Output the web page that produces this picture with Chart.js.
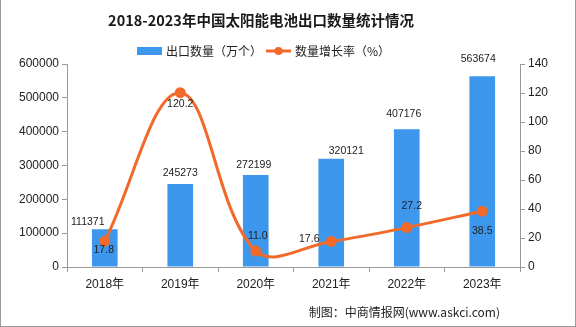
<!DOCTYPE html>
<html><head><meta charset="utf-8">
<script src="https://cdn.jsdelivr.net/npm/chart.js@4"></script>
<style>
html,body{margin:0;padding:0;background:#fff;}
#wrap{position:relative;width:576px;height:327px;}
#frame{position:absolute;left:0;top:0;width:576px;height:327px;box-sizing:border-box;border-left:1px solid #9a9a9a;border-right:1px solid #9a9a9a;border-bottom:1px solid #9a9a9a;pointer-events:none;}
</style></head>
<body><div id="wrap"><canvas id="c" width="576" height="327"></canvas><div id="frame"></div></div>
<script>
const titleText = '2018-2023年中国太阳能电池出口数量统计情况';
const sourceText = '制图：中商情报网(www.askci.com)';
const categories = ['2018年','2019年','2020年','2021年','2022年','2023年'];
const exportVolume = [111371, 245273, 272199, 320121, 407176, 563674];
const growthRate = [17.8, 120.2, 11.0, 17.6, 27.2, 38.5];
const volumeLabel = '出口数量（万个）';
const rateLabel = '数量增长率（%）';

const BAR_COLOR = '#3d97ec';
const LINE_COLOR = '#f26a2a';

const overlay = {
  id: 'overlay',
  afterDatasetsDraw(chart, args, opts) {
    const ctx = chart.ctx;
    ctx.save();
    const barMeta = chart.getDatasetMeta(0);
    ctx.fillStyle = '#222';
    ctx.font = '10.5px "Liberation Sans", sans-serif';
    ctx.textAlign = 'center';
    ctx.textBaseline = 'middle';
    barMeta.data.forEach((el, i) => {
      const o = opts.barOffsets[i];
      ctx.fillText(String(chart.data.datasets[0].data[i]), el.x + o[0], el.y + o[1]);
    });
    const lineMeta = chart.getDatasetMeta(1);
    lineMeta.data.forEach((el, i) => {
      const o = opts.lineOffsets[i];
      ctx.fillText(chart.data.datasets[1].data[i].toFixed(1), el.x + o[0], el.y + o[1]);
    });
    ctx.restore();
  },
  afterDraw(chart, args, opts) {
    const ctx = chart.ctx;
    ctx.save();
    ctx.fillStyle = '#1a1a1a';
    ctx.font = 'bold 14.5px "Noto Sans CJK SC", sans-serif';
    ctx.textAlign = 'center';
    ctx.textBaseline = 'middle';
    ctx.fillText(titleText, 261, 20);
    ctx.font = '12px "Noto Sans CJK SC", sans-serif';
    ctx.textAlign = 'left';
    ctx.fillStyle = BAR_COLOR;
    ctx.fillRect(137, 47, 25, 8);
    ctx.fillStyle = '#222';
    ctx.fillText(chart.data.datasets[0].label, 166, 51);
    ctx.strokeStyle = LINE_COLOR;
    ctx.lineWidth = 3;
    ctx.beginPath(); ctx.moveTo(266, 51); ctx.lineTo(291, 51); ctx.stroke();
    ctx.fillStyle = LINE_COLOR;
    ctx.beginPath(); ctx.arc(278.5, 51, 4, 0, Math.PI * 2); ctx.fill();
    ctx.fillStyle = '#222';
    ctx.fillText(chart.data.datasets[1].label, 295, 51);
    ctx.textAlign = 'right';
    ctx.fillStyle = '#222';
    ctx.fillText(sourceText, 500, 312);
    ctx.restore();
  }
};

new Chart(document.getElementById('c'), {
  data: {
    labels: categories,
    datasets: [
      { type: 'bar', label: volumeLabel, data: exportVolume, backgroundColor: BAR_COLOR,
        yAxisID: 'y', categoryPercentage: 1, barPercentage: 0.34, order: 2 },
      { type: 'line', label: rateLabel, data: growthRate, borderColor: LINE_COLOR, backgroundColor: LINE_COLOR,
        borderWidth: 3, pointRadius: 4, pointHoverRadius: 4, tension: 0.38, yAxisID: 'y1', order: 1 }
    ]
  },
  options: {
    responsive: false,
    animation: false,
    events: [],
    layout: { padding: { top: 64, bottom: 0, left: 0, right: 0 } },
    plugins: {
      legend: { display: false },
      title: { display: false },
      tooltip: { enabled: false },
      overlay: {
        barOffsets: [[-17,-7],[0,-11],[-2,-10],[15,-8],[-3,-15],[-4,-17]],
        lineOffsets: [[-1,9],[0,11],[2,-15],[-22,-2],[5,-21],[0,20]]
      }
    },
    scales: {
      x: {
        offset: true,
        grid: { display: true, offset: true, drawOnChartArea: false, drawTicks: true, tickLength: 5, color: '#999' },
        border: { display: true, color: '#999' },
        ticks: { color: '#222', font: { family: '"Liberation Sans", "Noto Sans CJK SC", sans-serif', size: 12 }, padding: 5, maxRotation: 0 },
        afterFit(s) { s.height = 60; }
      },
      y: {
        position: 'left', min: 0, max: 600000,
        grid: { display: true, drawOnChartArea: false, drawTicks: true, tickLength: 5, color: '#999' },
        border: { display: true, color: '#999' },
        ticks: { stepSize: 100000, color: '#222', font: { family: '"Liberation Sans", sans-serif', size: 12 }, padding: 3,
                 callback: v => String(v) },
        afterFit(s) { s.width = 67; }
      },
      y1: {
        position: 'right', min: 0, max: 140,
        grid: { display: true, drawOnChartArea: false, drawTicks: true, tickLength: 5, color: '#999' },
        border: { display: true, color: '#999' },
        ticks: { stepSize: 20, color: '#222', font: { family: '"Liberation Sans", sans-serif', size: 12 }, padding: 3,
                 callback: v => String(v) },
        afterFit(s) { s.width = 56; }
      }
    }
  },
  plugins: [overlay]
});
</script></body></html>
